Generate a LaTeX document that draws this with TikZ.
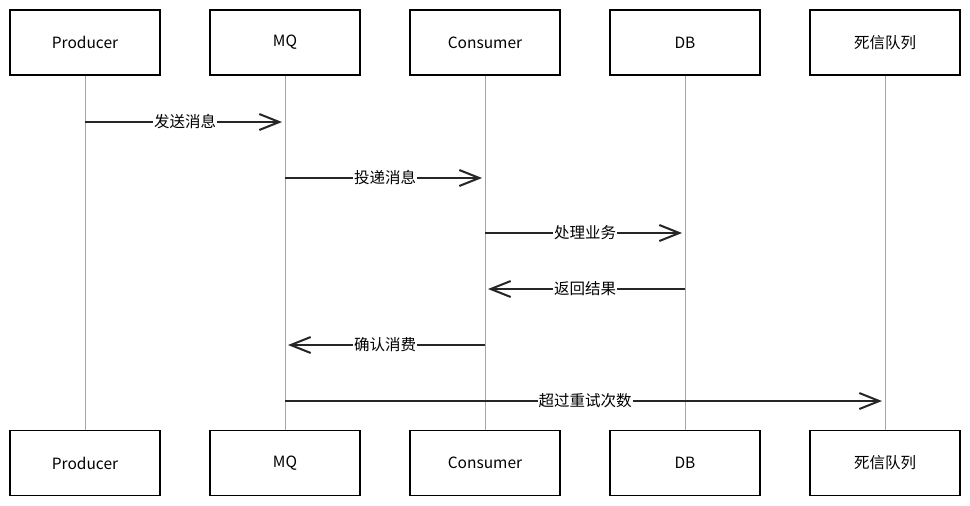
\documentclass[tikz,border=0pt]{standalone}
\usepackage{fontspec}
\setmainfont{Noto Sans CJK SC}
\usepackage{tikz}
\usetikzlibrary{arrows.meta}

\tikzset{
	actor/.style={draw=black, line width=1.8pt, fill=white, minimum width=150pt, minimum height=65pt, font=\fontsize{15.5}{18}\selectfont},
	life/.style={draw=gray!70, line width=0.9pt},
	msg/.style={draw=black!85, line width=2.6pt, shorten >=3pt, arrows={-Straight Barb[length=20pt,width=16pt,line width=2pt]}},
	lbl/.style={fill=white, inner sep=1pt, text=black, font=\fontsize{15.5}{18}\selectfont}
}

\begin{document}
\begin{tikzpicture}[x=1pt, y=-1pt]
	\useasboundingbox (0,0) rectangle (970,506);
	% participants, top and bottom
	\node[actor] (prodT) at (85,42.5) {Producer};
	\node[actor] (mqT) at (285,42.5) {MQ};
	\node[actor] (consT) at (485,42.5) {Consumer};
	\node[actor] (dbT) at (685,42.5) {DB};
	\node[actor] (dlqT) at (885,42.5) {死信队列};
	\node[actor] (prodB) at (85,463) {Producer};
	\node[actor] (mqB) at (285,463) {MQ};
	\node[actor] (consB) at (485,463) {Consumer};
	\node[actor] (dbB) at (685,463) {DB};
	\node[actor] (dlqB) at (885,463) {死信队列};
	% lifelines
	\foreach \p in {prod,mq,cons,db,dlq}
		\draw[life] (\p T.south) -- (\p B.north);
	% message heights
	\coordinate (m1) at (0,122);
	\coordinate (m2) at (0,178);
	\coordinate (m3) at (0,233);
	\coordinate (m4) at (0,289);
	\coordinate (m5) at (0,345);
	\coordinate (m6) at (0,401);
	% messages
	\draw[msg] (prodT |- m1) -- (mqT |- m1) node[midway,lbl] {发送消息};
	\draw[msg] (mqT |- m2) -- (consT |- m2) node[midway,lbl] {投递消息};
	\draw[msg] (consT |- m3) -- (dbT |- m3) node[midway,lbl] {处理业务};
	\draw[msg] (dbT |- m4) -- (consT |- m4) node[midway,lbl] {返回结果};
	\draw[msg] (consT |- m5) -- (mqT |- m5) node[midway,lbl] {确认消费};
	\draw[msg] (mqT |- m6) -- (dlqT |- m6) node[midway,lbl] {超过重试次数};
\end{tikzpicture}
\end{document}
